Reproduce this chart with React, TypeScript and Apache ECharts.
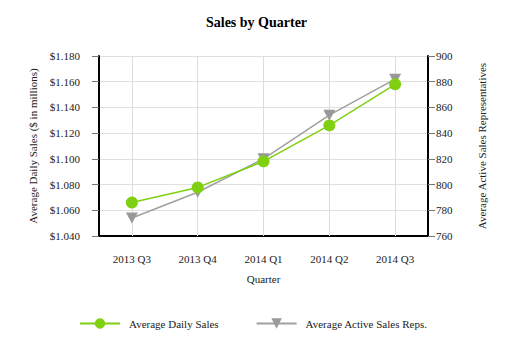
import React, { useEffect, useRef } from "react";
import * as echarts from "echarts";

const categories = ["2013 Q3", "2013 Q4", "2014 Q1", "2014 Q2", "2014 Q3"];
const dailySales = [1.066, 1.0778, 1.098, 1.126, 1.158];
const salesReps = [774, 794, 820, 854, 882];
const leftTicks = { min: 1.04, max: 1.18, interval: 0.02 };
const rightTicks = { min: 760, max: 900, interval: 20 };

const FONT = "Liberation Serif";
const GREEN = "#7fd010";
const GRAY = "#999999";

export default function App() {
  const ref = useRef<HTMLDivElement>(null);
  useEffect(() => {
    if (!ref.current) return;
    const chart = echarts.init(ref.current, undefined, { renderer: "svg" });
    chart.setOption({
      animation: false,
      backgroundColor: "#ffffff",
      textStyle: { fontFamily: FONT },
      title: {
        text: "Sales by Quarter",
        left: "center",
        top: 10,
        textStyle: { fontFamily: FONT, fontSize: 14, fontWeight: "bold", color: "#000" },
      },
      grid: { left: 99, right: 85, top: 56, bottom: 121 },
      legend: {
        left: 74,
        top: 313,
        itemWidth: 40,
        itemHeight: 13,
        itemGap: 37,
        textStyle: { fontFamily: FONT, fontSize: 11, color: "#222", padding: [0, 0, 0, 4] },
        data: ["Average Daily Sales", "Average Active Sales Reps."],
      },
      xAxis: {
        type: "category",
        data: categories,
        boundaryGap: true,
        name: "Quarter",
        nameLocation: "middle",
        nameGap: 37,
        nameTextStyle: { fontFamily: FONT, fontSize: 11, color: "#222" },
        axisLine: { lineStyle: { color: "#000", width: 2 } },
        axisTick: { alignWithLabel: true, length: 6, lineStyle: { color: "#333" } },
        axisLabel: { fontFamily: FONT, fontSize: 11, color: "#222", margin: 17 },
        splitLine: { show: false },
      },
      yAxis: [
        {
          type: "value",
          position: "left",
          min: leftTicks.min,
          max: leftTicks.max,
          interval: leftTicks.interval,
          name: "Average Daily Sales ($ in millions)",
          nameLocation: "middle",
          nameRotate: 90,
          nameGap: 58,
          nameTextStyle: { fontFamily: FONT, fontSize: 11, color: "#222" },
          axisLine: { show: true, lineStyle: { color: "#000", width: 2 } },
          axisTick: { show: true, length: 7, lineStyle: { color: "#777" } },
          axisLabel: {
            fontFamily: FONT,
            fontSize: 11,
            color: "#222",
            margin: 19,
            formatter: (v: number) => "$" + v.toFixed(3),
          },
          splitLine: { show: true, lineStyle: { color: "#e0e0e0", width: 1 } },
        },
        {
          type: "value",
          position: "right",
          min: rightTicks.min,
          max: rightTicks.max,
          interval: rightTicks.interval,
          name: "Average Active Sales Representatives",
          nameLocation: "middle",
          nameRotate: 90,
          nameGap: 48,
          nameTextStyle: { fontFamily: FONT, fontSize: 11, color: "#222" },
          axisLine: { show: true, lineStyle: { color: "#000", width: 2 } },
          axisTick: { show: true, length: 7, lineStyle: { color: "#777" } },
          axisLabel: { fontFamily: FONT, fontSize: 11, color: "#222", margin: 8 },
          splitLine: { show: false },
        },
      ],
      series: [
        {
          name: "Average Daily Sales",
          type: "line",
          yAxisIndex: 0,
          data: dailySales,
          symbol: "circle",
          symbolSize: 12,
          itemStyle: { color: GREEN },
          lineStyle: { color: GREEN, width: 1.5 },
          z: 3,
          markLine: {
            silent: true,
            symbol: "none",
            label: { show: false },
            lineStyle: { color: "#dcdcdc", type: "solid", width: 1 },
            data: categories.map((c) => ({ xAxis: c })),
            z: 1,
          },
        },
        {
          name: "Average Active Sales Reps.",
          type: "line",
          yAxisIndex: 1,
          data: salesReps,
          symbol: "path://M0,0L10,0L5,9Z",
          symbolSize: [12, 11],
          itemStyle: { color: GRAY },
          lineStyle: { color: "#a0a0a0", width: 1.5 },
          z: 2,
        },
      ],
    });
    return () => chart.dispose();
  }, []);
  return <div ref={ref} style={{ width: 513, height: 357, margin: -8 }} />;
}
